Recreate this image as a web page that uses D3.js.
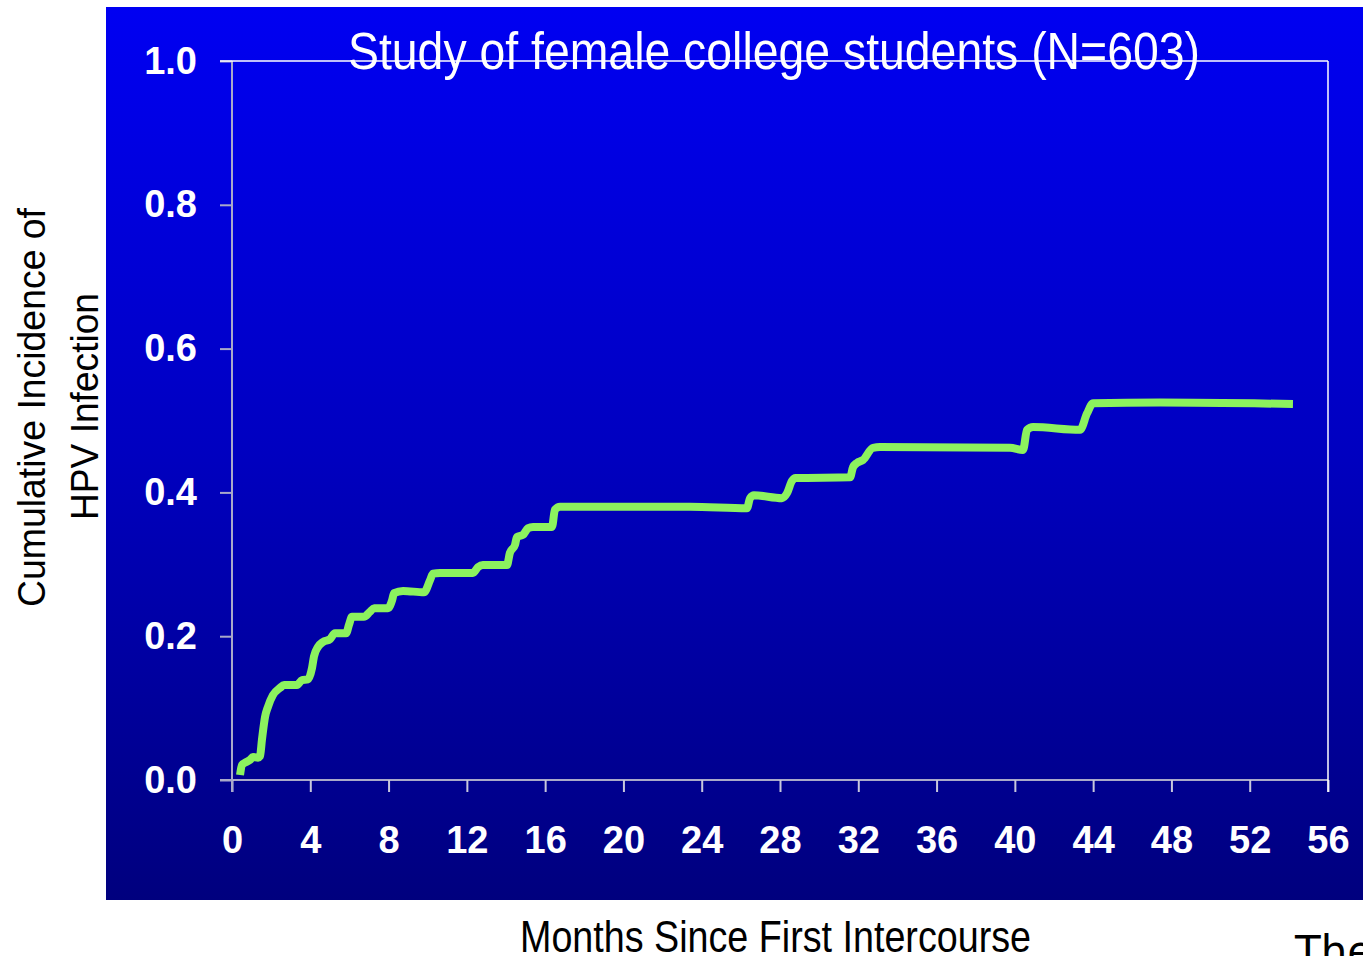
<!DOCTYPE html>
<html>
<head>
<meta charset="utf-8">
<script src="https://cdn.jsdelivr.net/npm/d3@7"></script>
<style>
  html, body { margin: 0; padding: 0; background: #ffffff; }
  svg { display: block; }
</style>
</head>
<body>
<svg id="chart" width="1363" height="956"></svg>
<script>
// Cumulative incidence curve (months since first intercourse, cumulative incidence)
const months = [0.41, 0.51, 0.66, 0.92, 1.07, 1.33, 1.43, 1.53, 1.69, 1.84, 2.09, 2.45, 2.66, 3.32, 3.58, 3.88,
  4.09, 4.19, 4.39, 4.65, 5.01, 5.26, 5.83, 5.98, 6.13, 6.74, 7.05, 7.26, 7.97, 8.18, 8.28, 8.74, 9.81,
  10.12, 10.27, 10.63, 12.31, 12.57, 12.82, 14.05, 14.20, 14.46, 14.56, 14.87, 15.12, 15.38, 16.35, 16.50,
  16.76, 23.40, 26.31, 26.47, 26.67, 28.10, 28.36, 28.61, 28.80, 31.58, 31.73, 31.93, 32.24, 32.75, 33.11,
  39.75, 40.42, 40.62, 40.93, 43.33, 43.69, 44.00, 47.42, 54.21];
const incidence = [0.007, 0.021, 0.024, 0.028, 0.032, 0.031, 0.033, 0.056, 0.088, 0.102, 0.118, 0.128, 0.132, 0.132, 0.139, 0.140,
  0.156, 0.172, 0.185, 0.192, 0.196, 0.204, 0.204, 0.216, 0.227, 0.227, 0.234, 0.239, 0.239, 0.250, 0.260, 0.263, 0.261,
  0.278, 0.287, 0.288, 0.288, 0.296, 0.299, 0.299, 0.316, 0.327, 0.338, 0.341, 0.350, 0.352, 0.352, 0.376,
  0.380, 0.380, 0.378, 0.392, 0.396, 0.392, 0.399, 0.416, 0.420, 0.421, 0.435, 0.441, 0.445, 0.462, 0.463,
  0.462, 0.459, 0.487, 0.491, 0.487, 0.510, 0.524, 0.525, 0.523];

const xTicks = [0, 4, 8, 12, 16, 20, 24, 28, 32, 36, 40, 44, 48, 52, 56];
const yTicks = [0, 0.2, 0.4, 0.6, 0.8, 1.0];

const titleText = "Study of female college students (N=603)";
const xTitle = "Months Since First Intercourse";
const yTitleLines = ["Cumulative Incidence of", "HPV Infection"];

const svg = d3.select("#chart");

// background gradient panel
const defs = svg.append("defs");
const grad = defs.append("linearGradient")
  .attr("id", "panelGrad").attr("x1", 0).attr("y1", 0).attr("x2", 0).attr("y2", 1);
grad.append("stop").attr("offset", "0%").attr("stop-color", "#0000f2");
grad.append("stop").attr("offset", "50%").attr("stop-color", "#0000c0");
grad.append("stop").attr("offset", "100%").attr("stop-color", "#00007e");

svg.append("rect")
  .attr("x", 106).attr("y", 7).attr("width", 1363 - 106).attr("height", 893)
  .attr("fill", "url(#panelGrad)");

const x = d3.scaleLinear().domain([0, 56]).range([232, 1328]);
const y = d3.scaleLinear().domain([0, 1]).range([780, 61]);

const tickFont = "'Liberation Sans', Arial, sans-serif";

// x axis
const gx = svg.append("g")
  .attr("transform", `translate(0,${y(0)})`)
  .call(d3.axisBottom(x).tickValues(xTicks).tickSize(12).tickPadding(34).tickSizeOuter(0)
    .tickFormat(d3.format("d")));
gx.select(".domain").attr("stroke", "#a9a9c9").attr("stroke-width", 2)
  .attr("d", `M${x(0) - 12},0H${x(56)}`);
gx.selectAll(".tick line").attr("stroke", "#c8c8dc").attr("stroke-width", 2);
gx.selectAll(".tick text")
  .attr("fill", "#ffffff").attr("font-family", tickFont)
  .attr("font-weight", "bold").attr("font-size", 38);

// y axis
const gy = svg.append("g")
  .attr("transform", `translate(${x(0)},0)`)
  .call(d3.axisLeft(y).tickValues(yTicks).tickSize(12).tickPadding(23).tickSizeOuter(0)
    .tickFormat(d3.format(".1f")));
gy.select(".domain").attr("stroke", "#a9a9c9").attr("stroke-width", 2)
  .attr("d", `M0,${y(1)}V${y(0) + 12}`);
gy.selectAll(".tick line").attr("stroke", "#a9a9c9").attr("stroke-width", 2);
gy.selectAll(".tick text")
  .attr("fill", "#ffffff").attr("font-family", tickFont)
  .attr("font-weight", "bold").attr("font-size", 38);

// plot frame: top and right edges
svg.append("line")
  .attr("x1", x(0) - 12).attr("x2", x(56)).attr("y1", y(1)).attr("y2", y(1))
  .attr("stroke", "#ffffff").attr("stroke-width", 1.5);
svg.append("line")
  .attr("x1", x(56)).attr("x2", x(56)).attr("y1", y(1)).attr("y2", y(0) + 12)
  .attr("stroke", "#ffffff").attr("stroke-width", 1.5);

// incidence curve
const pts = months.map((m, i) => [m, incidence[i]]);
const line = d3.line()
  .x(d => x(d[0])).y(d => y(d[1]))
  .curve(d3.curveMonotoneX);
svg.append("path")
  .attr("d", line(pts))
  .attr("fill", "none")
  .attr("stroke", "#8cf25e")
  .attr("stroke-width", 8)
  .attr("stroke-linejoin", "round")
  .attr("stroke-linecap", "butt");

const narrow = "'Liberation Sans Narrow', 'Arial Narrow', 'Liberation Sans', Arial, sans-serif";

// title
svg.append("text")
  .attr("x", 348).attr("y", 69)
  .attr("font-family", narrow).attr("font-size", 51)
  .attr("fill", "#ffffff")
  .attr("textLength", 852).attr("lengthAdjust", "spacingAndGlyphs")
  .text(titleText);

// x axis title
svg.append("text")
  .attr("x", 520).attr("y", 952)
  .attr("font-family", narrow).attr("font-size", 44)
  .attr("fill", "#000000")
  .attr("textLength", 511).attr("lengthAdjust", "spacingAndGlyphs")
  .text(xTitle);

// y axis title (two rotated lines)
const yt = svg.append("g");
yt.append("text")
  .attr("transform", "translate(45,607) rotate(-90)")
  .attr("font-family", "'Liberation Sans', Arial, sans-serif").attr("font-size", 38)
  .attr("fill", "#000000")
  .attr("textLength", 399).attr("lengthAdjust", "spacingAndGlyphs")
  .text(yTitleLines[0]);
yt.append("text")
  .attr("transform", "translate(98,520) rotate(-90)")
  .attr("font-family", "'Liberation Sans', Arial, sans-serif").attr("font-size", 38)
  .attr("fill", "#000000")
  .attr("textLength", 227).attr("lengthAdjust", "spacingAndGlyphs")
  .text(yTitleLines[1]);

// text continuing past the right edge
svg.append("text")
  .attr("x", 1295).attr("y", 966)
  .attr("font-family", "'DejaVu Sans', sans-serif").attr("font-size", 42)
  .attr("fill", "#000000")
  .text("The");
</script>
</body>
</html>
